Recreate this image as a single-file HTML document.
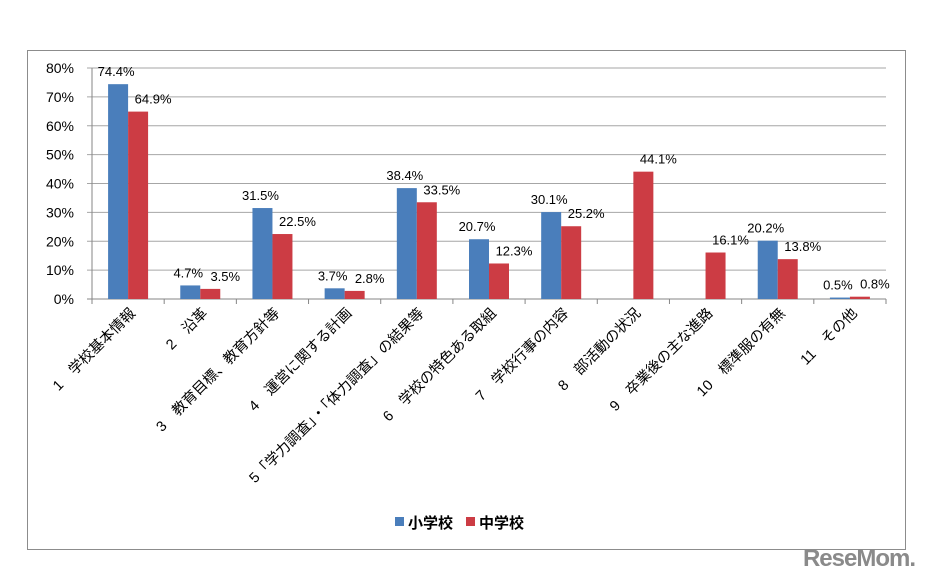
<!DOCTYPE html>
<html><head><meta charset="utf-8"><style>
body{margin:0;background:#fff;}
svg text{font-family:"Liberation Sans","Noto Sans CJK JP",sans-serif;}
</style></head><body>
<svg width="936" height="577" viewBox="0 0 936 577">
<rect x="27.5" y="50.5" width="878" height="499" fill="#fff" stroke="#8c8c8c"/>
<g id="grid"></g><g id="bars"></g><g id="labels"></g>
<g>
<rect x="395" y="517" width="9" height="9" fill="#4a7ebb"/>
<text x="408" y="528" font-size="15" font-weight="bold">小学校</text>
<rect x="466" y="517" width="9" height="9" fill="#cc3c44"/>
<text x="479" y="528" font-size="15" font-weight="bold">中学校</text>
</g>
<text x="915" y="566" font-size="24" font-weight="bold" fill="#8a8a8a" text-anchor="end" style="letter-spacing:-1px">ReseMom.</text>
</svg>
<script>
const categories=["1\u3000学校基本情報","2\u3000沿革","3\u3000教育目標、教育方針等","4\u3000運営に関する計画","5「学力調査」・「体力調査」の結果等","6\u3000学校の特色ある取組","7\u3000学校行事の内容","8\u3000部活動の状況","9\u3000卒業後の主な進路","10\u3000標準服の有無","11\u3000その他"];
const elementary=[74.4,4.7,31.5,3.7,38.4,20.7,30.1,null,null,20.2,0.5];
const junior=[64.9,3.5,22.5,2.8,33.5,12.3,25.2,44.1,16.1,13.8,0.8];
const yTicks=[0,10,20,30,40,50,60,70,80];
const NS="http://www.w3.org/2000/svg";
const X0=92,X1=886,Y0=299,Y1=68,YMAX=80;
const bw=(X1-X0)/categories.length;
const y=v=>Y0-(v/YMAX)*(Y0-Y1);
const cx=i=>X0+bw*(i+0.5);
function mk(tag,attrs,parent){const e=document.createElementNS(NS,tag);for(const k in attrs)e.setAttribute(k,attrs[k]);parent.appendChild(e);return e;}
const grid=document.getElementById('grid'),bars=document.getElementById('bars'),labels=document.getElementById('labels');
yTicks.forEach(t=>{
 const l=mk('line',{x1:X0-5,x2:X1,y1:y(t),y2:y(t),stroke:t===0?'#868686':'#a6a6a6','stroke-width':1},grid);
 
 
 const tx=mk('text',{x:X0-18,y:y(t)+5,'font-size':14,'text-anchor':'end'},grid);
 tx.textContent=t+'%';
 
 
});
const ax=mk('line',{x1:X0,x2:X0,y1:Y1,y2:Y0+5,stroke:'#868686'},grid);


for(let i=0;i<=categories.length;i++){
 const t=mk('line',{x1:X0+bw*i,x2:X0+bw*i,y1:Y0,y2:Y0+5,stroke:'#868686'},grid);
 
 
}
const W=20;
function bar(v,x,color,name,off){
 if(v==null)return;
 const r=mk('rect',{x:x,y:y(v),width:W,height:Y0-y(v),fill:color},bars);
 
 
 const t=mk('text',{x:x+W/2+off,y:y(v)-8,'font-size':13,'text-anchor':'middle'},bars);
 t.textContent=v.toFixed(1)+'%';
 
 
}
categories.forEach((c,i)=>{
 bar(elementary[i],cx(i)-W,'#4a7ebb','bar-elementary-'+(i+1),-2);
 bar(junior[i],cx(i),'#cc3c44','bar-junior-'+(i+1),15);
 const t=mk('text',{x:cx(i)+8,y:Y0+15,'font-size':14.5,'text-anchor':'end',transform:`rotate(-45 ${cx(i)+8} ${Y0+15})`},labels);
 t.textContent=c;
 
 
});
</script>
</body></html>
